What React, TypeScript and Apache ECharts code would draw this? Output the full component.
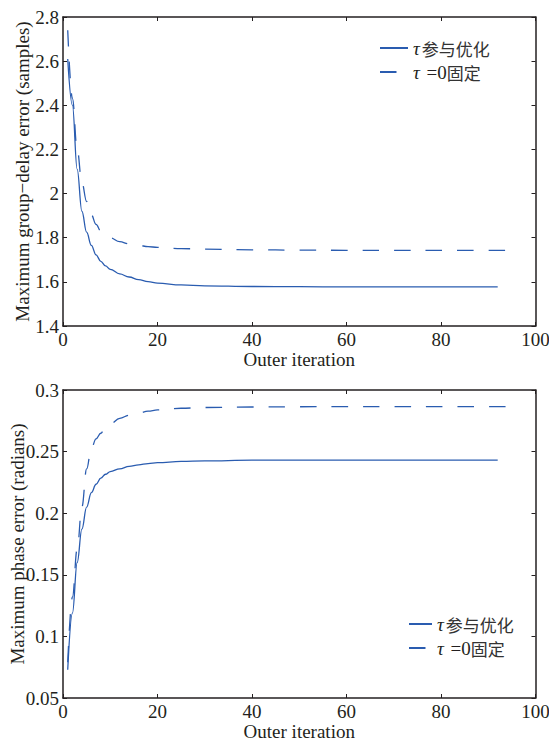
import React, { useEffect, useRef } from "react";
import * as echarts from "echarts";

// ---- data ----
const ITER_OPT = [1, 2, 3, 4, 5, 6, 7, 8, 9, 10, 12, 14, 16, 18, 20, 25, 30, 40, 50, 60, 70, 80, 92];
const ITER_FIX = [1, 2, 3, 4, 5, 6, 7, 8, 9, 10, 12, 14, 16, 18, 20, 25, 30, 40, 50, 60, 70, 80, 95];

const GD_TAU_OPT = [2.61, 2.4, 2.11, 1.92, 1.825, 1.765, 1.722, 1.693, 1.672, 1.657, 1.636, 1.622, 1.61, 1.601, 1.594, 1.586, 1.582, 1.579, 1.578, 1.577, 1.577, 1.577, 1.577];
const GD_TAU_FIX = [2.74, 2.43, 2.2, 2.05, 1.964, 1.904, 1.86, 1.83, 1.813, 1.8, 1.782, 1.772, 1.765, 1.76, 1.756, 1.751, 1.748, 1.745, 1.744, 1.743, 1.743, 1.743, 1.743];

const PH_TAU_OPT = [0.073, 0.119, 0.16, 0.187, 0.205, 0.2167, 0.2235, 0.2284, 0.2316, 0.2338, 0.236, 0.238, 0.2393, 0.2403, 0.241, 0.242, 0.2425, 0.243, 0.243, 0.243, 0.243, 0.243, 0.243];
const PH_TAU_FIX = [0.079, 0.132, 0.171, 0.205, 0.236, 0.2527, 0.2603, 0.2649, 0.2697, 0.2724, 0.277, 0.2795, 0.2812, 0.2828, 0.2838, 0.2852, 0.2858, 0.2862, 0.2864, 0.2865, 0.2865, 0.2865, 0.2865];

const SERIES_NAMES = ["τ参与优化", "τ =0固定"];
const X_TITLE = "Outer iteration";
const Y_TITLE_TOP = "Maximum group−delay error (samples)";
const Y_TITLE_BOTTOM = "Maximum phase error (radians)";

const X_RANGE = [0, 100, 20];
const Y_RANGE_TOP = [1.4, 2.8, 0.2];
const Y_RANGE_BOTTOM = [0.05, 0.3, 0.05];

const pairs = (xs: number[], ys: number[]) => xs.map((x, i) => [x, ys[i]]);

const INK = "#231f20";
const BLUE = "#2a5cb0";
const SERIF = "Liberation Serif";
const CJK = "Noto Sans CJK SC";

const tick = { show: true, inside: true, length: 4, lineStyle: { color: INK, width: 1 } };
const axLine = { show: true, onZero: false, lineStyle: { color: INK, width: 1.5 } };
const lbl = { color: INK, fontFamily: SERIF, fontSize: 19 };

function xAxes(gridIndex: number) {
  const [min, max, interval] = X_RANGE;
  return [
    {
      type: "value", gridIndex, position: "bottom", min, max, interval,
      axisLine: axLine, axisTick: tick, splitLine: { show: false },
      axisLabel: { ...lbl, margin: 4 },
      name: X_TITLE, nameLocation: "middle", nameGap: 24, nameMoveOverlap: false,
      nameTextStyle: { color: INK, fontFamily: SERIF, fontSize: 19 },
    },
    {
      type: "value", gridIndex, position: "top", min, max, interval,
      axisLine: axLine, axisTick: tick, splitLine: { show: false },
      axisLabel: { show: false },
    },
  ];
}

function yAxes(gridIndex: number, range: number[], title: string, gap: number) {
  const [min, max, interval] = range;
  return [
    {
      type: "value", gridIndex, position: "left", min, max, interval,
      axisLine: axLine, axisTick: tick, splitLine: { show: false },
      axisLabel: { ...lbl, margin: 4 },
      name: title, nameLocation: "middle", nameGap: gap, nameMoveOverlap: false,
      nameTextStyle: { color: INK, fontFamily: SERIF, fontSize: 19 },
    },
    {
      type: "value", gridIndex, position: "right", min, max, interval,
      axisLine: axLine, axisTick: tick, splitLine: { show: false },
      axisLabel: { show: false },
    },
  ];
}

const legendFormatter = (name: string) =>
  name === SERIES_NAMES[0] ? "{t|τ}{c|参与优化}" : "{t|τ}{n| =0}{c|固定}";

const legendText = {
  color: INK,
  fontFamily: SERIF,
  fontSize: 18,
  lineHeight: 20,
  rich: {
    t: { fontFamily: SERIF, fontStyle: "italic", fontSize: 19, lineHeight: 20, color: INK, padding: [0, 2, 0, 0] },
    n: { fontFamily: SERIF, fontSize: 19, lineHeight: 20, color: INK },
    c: { fontFamily: CJK, fontSize: 17, lineHeight: 20, color: "#333" },
  },
};

function lineSeries(name: string, data: number[][], xi: number, yi: number, dashed: boolean) {
  return {
    type: "line", name, data, xAxisIndex: xi, yAxisIndex: yi,
    symbol: "none", showSymbol: false, smooth: 0.4, smoothMonotone: "x",
    lineStyle: { color: BLUE, width: 1.3, type: dashed ? [16.5, 15] : "solid" },
    itemStyle: { color: BLUE },
  };
}

export default function App() {
  const ref = useRef<HTMLDivElement>(null);
  useEffect(() => {
    if (!ref.current) return;
    const chart = echarts.init(ref.current, undefined, { renderer: "svg" });
    chart.setOption({
      animation: false,
      backgroundColor: "#ffffff",
      textStyle: { fontFamily: SERIF },
      grid: [
        { left: 63, top: 17, width: 472.5, height: 309, containLabel: false, outerBoundsMode: "none" },
        { left: 63, top: 390, width: 472.5, height: 308, containLabel: false, outerBoundsMode: "none" },
      ],
      xAxis: [...xAxes(0), ...xAxes(1)],
      yAxis: [...yAxes(0, Y_RANGE_TOP, Y_TITLE_TOP, 31), ...yAxes(1, Y_RANGE_BOTTOM, Y_TITLE_BOTTOM, 36)],
      legend: [
        {
          data: SERIES_NAMES, orient: "vertical", left: 379, top: 38,
          itemWidth: 28, itemHeight: 20, itemGap: 4, padding: 0,
          itemStyle: { opacity: 0 },
          formatter: legendFormatter, textStyle: legendText, selectedMode: false,
        },
        {
          data: SERIES_NAMES, orient: "vertical", left: 408, top: 614,
          itemWidth: 23, itemHeight: 20, itemGap: 4, padding: 0,
          itemStyle: { opacity: 0 },
          formatter: legendFormatter, textStyle: legendText, selectedMode: false,
        },
      ],
      series: [
        lineSeries(SERIES_NAMES[0], pairs(ITER_OPT, GD_TAU_OPT), 0, 0, false),
        lineSeries(SERIES_NAMES[1], pairs(ITER_FIX, GD_TAU_FIX), 0, 0, true),
        lineSeries(SERIES_NAMES[0], pairs(ITER_OPT, PH_TAU_OPT), 2, 2, false),
        lineSeries(SERIES_NAMES[1], pairs(ITER_FIX, PH_TAU_FIX), 2, 2, true),
      ],
    });
    return () => chart.dispose();
  }, []);
  return (
    <div
      ref={ref}
      style={{ position: "absolute", left: 0, top: 0, width: 549, height: 742, background: "#fff" }}
    />
  );
}
